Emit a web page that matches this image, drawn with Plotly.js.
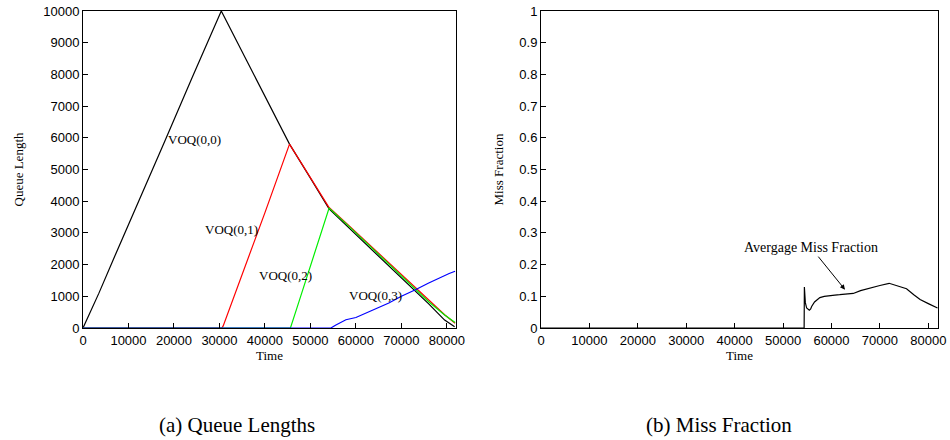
<!DOCTYPE html>
<html>
<head>
<meta charset="utf-8">
<script src="https://cdn.plot.ly/plotly-3.0.1.min.js"></script>
<style>html,body{margin:0;padding:0;background:#fff;}#chart{width:950px;height:440px;}</style>
</head>
<body>
<div id="chart"></div>
<script>
// ---- Data ----
const time00 = [0, 3500, 7000, 12000, 18000, 24000, 30400, 36000, 41000, 45400, 50000, 54100, 58000, 63000, 68000, 72000, 76000, 79500, 81700];
const q00    = [0, 1100, 2270, 3900, 5900, 7900, 10000, 8430, 7030, 5800, 4730, 3760, 3220, 2540, 1860, 1300, 760, 250, 40];

const time01 = [0, 30500, 30800, 35000, 40000, 45400, 50000, 54100, 58000, 63000, 68000, 72000, 76000, 79500, 81800];
const q01    = [0, 0, 60, 1680, 3640, 5800, 4760, 3800, 3290, 2620, 1950, 1420, 860, 420, 150];

const time02 = [0, 45600, 47000, 50000, 54100, 58000, 63000, 68000, 72000, 76000, 79500, 81800];
const q02    = [0, 0, 620, 1950, 3780, 3270, 2590, 1910, 1370, 830, 410, 170];

const time03 = [0, 54500, 55500, 57800, 60000, 62150, 64500, 67240, 70000, 71500, 73080, 76000, 78910, 80500, 81800];
const q03    = [0, 0, 90, 260, 330, 473, 620, 790, 1000, 1090, 1207, 1420, 1626, 1720, 1790];

const timeM = [0, 54350, 54400, 54600, 54870, 55200, 55420, 55700, 55900, 56500, 57600, 58500, 59700, 60700, 61700, 63000, 64500, 66000, 68000, 70000, 71900, 73500, 75500, 77000, 78300, 80000, 81900];
const missM = [0, 0, 0.129, 0.08, 0.063, 0.06, 0.056, 0.06, 0.068, 0.082, 0.096, 0.1, 0.103, 0.104, 0.105, 0.107, 0.109, 0.118, 0.127, 0.134, 0.141, 0.134, 0.124, 0.105, 0.09, 0.077, 0.063];

const xTicks = [0, 10000, 20000, 30000, 40000, 50000, 60000, 70000, 80000];
const qTicks = [0, 1000, 2000, 3000, 4000, 5000, 6000, 7000, 8000, 9000, 10000];
const mTicks = [0, 0.1, 0.2, 0.3, 0.4, 0.5, 0.6, 0.7, 0.8, 0.9, 1];

const queueLabels = ["VOQ(0,0)", "VOQ(0,1)", "VOQ(0,2)", "VOQ(0,3)"];
const queueLabelX = [24570, 32600, 44420, 64330];
const queueLabelY = [5960, 3120, 1670, 1010];

const captions = ["(a) Queue Lengths", "(b) Miss Fraction"];

// ---- Traces ----
const lw = 1.2;
const traces = [
  {x: time00, y: q00, mode: 'lines', line: {color: '#000000', width: lw}, xaxis: 'x', yaxis: 'y', name: queueLabels[0]},
  {x: time01, y: q01, mode: 'lines', line: {color: '#ff0000', width: lw}, xaxis: 'x', yaxis: 'y', name: queueLabels[1]},
  {x: time02, y: q02, mode: 'lines', line: {color: '#00ee00', width: lw}, xaxis: 'x', yaxis: 'y', name: queueLabels[2]},
  {x: time03, y: q03, mode: 'lines', line: {color: '#0000ff', width: lw}, xaxis: 'x', yaxis: 'y', name: queueLabels[3]},
  {x: timeM, y: missM, mode: 'lines', line: {color: '#000000', width: lw}, xaxis: 'x2', yaxis: 'y2', name: 'Miss Fraction'}
];

const tickFont = {family: 'Liberation Sans, Arial, sans-serif', size: 13, color: '#000'};
const serif = 'Liberation Serif, Times New Roman, serif';
const titleFont = {family: serif, size: 13, color: '#000'};

function xAxis(domain, anchor) {
  return {
    domain: domain, anchor: anchor, range: [0, 82000], tickvals: xTicks,
    ticktext: xTicks.map(String),
    ticks: 'inside', ticklen: 5, tickwidth: 1, tickcolor: '#000',
    showline: true, linecolor: '#000', linewidth: 1, mirror: true,
    showgrid: false, zeroline: false, tickfont: tickFont,
    title: {text: 'Time', font: titleFont, standoff: 4}
  };
}
function yAxis(domain, anchor, range, vals, title, standoff) {
  return {
    domain: domain, anchor: anchor, range: range, tickvals: vals,
    ticktext: vals.map(String),
    ticks: 'inside', ticklen: 5, tickwidth: 1, tickcolor: '#000',
    showline: true, linecolor: '#000', linewidth: 1, mirror: true,
    showgrid: false, zeroline: false, tickfont: tickFont,
    title: {text: title, font: titleFont, standoff: standoff}
  };
}

const annotations = [];
for (let i = 0; i < queueLabels.length; i++) {
  annotations.push({x: queueLabelX[i], y: queueLabelY[i], xref: 'x', yref: 'y', text: queueLabels[i],
    showarrow: false, font: {family: serif, size: 13, color: '#000'}});
}
annotations.push({x: 62790, y: 0.121, xref: 'x2', yref: 'y2', text: 'Avergage Miss Fraction',
  showarrow: true, arrowhead: 2, arrowsize: 1, arrowwidth: 1, arrowcolor: '#000', ax: -34, ay: -42,
  font: {family: serif, size: 14, color: '#000'}});
annotations.push({x: 236.7 / 950, y: 1 - 425 / 440, xref: 'paper', yref: 'paper', xanchor: 'center', yanchor: 'middle',
  text: captions[0], showarrow: false, font: {family: serif, size: 21, color: '#000'}});
annotations.push({x: 719 / 950, y: 1 - 425 / 440, xref: 'paper', yref: 'paper', xanchor: 'center', yanchor: 'middle',
  text: captions[1], showarrow: false, font: {family: serif, size: 21, color: '#000'}});

const layout = {
  width: 950, height: 440,
  margin: {l: 0, r: 0, t: 0, b: 0},
  paper_bgcolor: '#fff', plot_bgcolor: '#fff',
  showlegend: false,
  xaxis: xAxis([83/950, 456/950], 'y'),
  yaxis: yAxis([1 - 328/440, 1 - 11/440], 'x', [0, 10000], qTicks, 'Queue Length', 16),
  xaxis2: xAxis([541/950, 938/950], 'y2'),
  yaxis2: yAxis([1 - 328/440, 1 - 11/440], 'x2', [0, 1], mTicks, 'Miss Fraction', 12),
  annotations: annotations
};

Plotly.newPlot('chart', traces, layout, {staticPlot: true, displayModeBar: false});
</script>
</body>
</html>
